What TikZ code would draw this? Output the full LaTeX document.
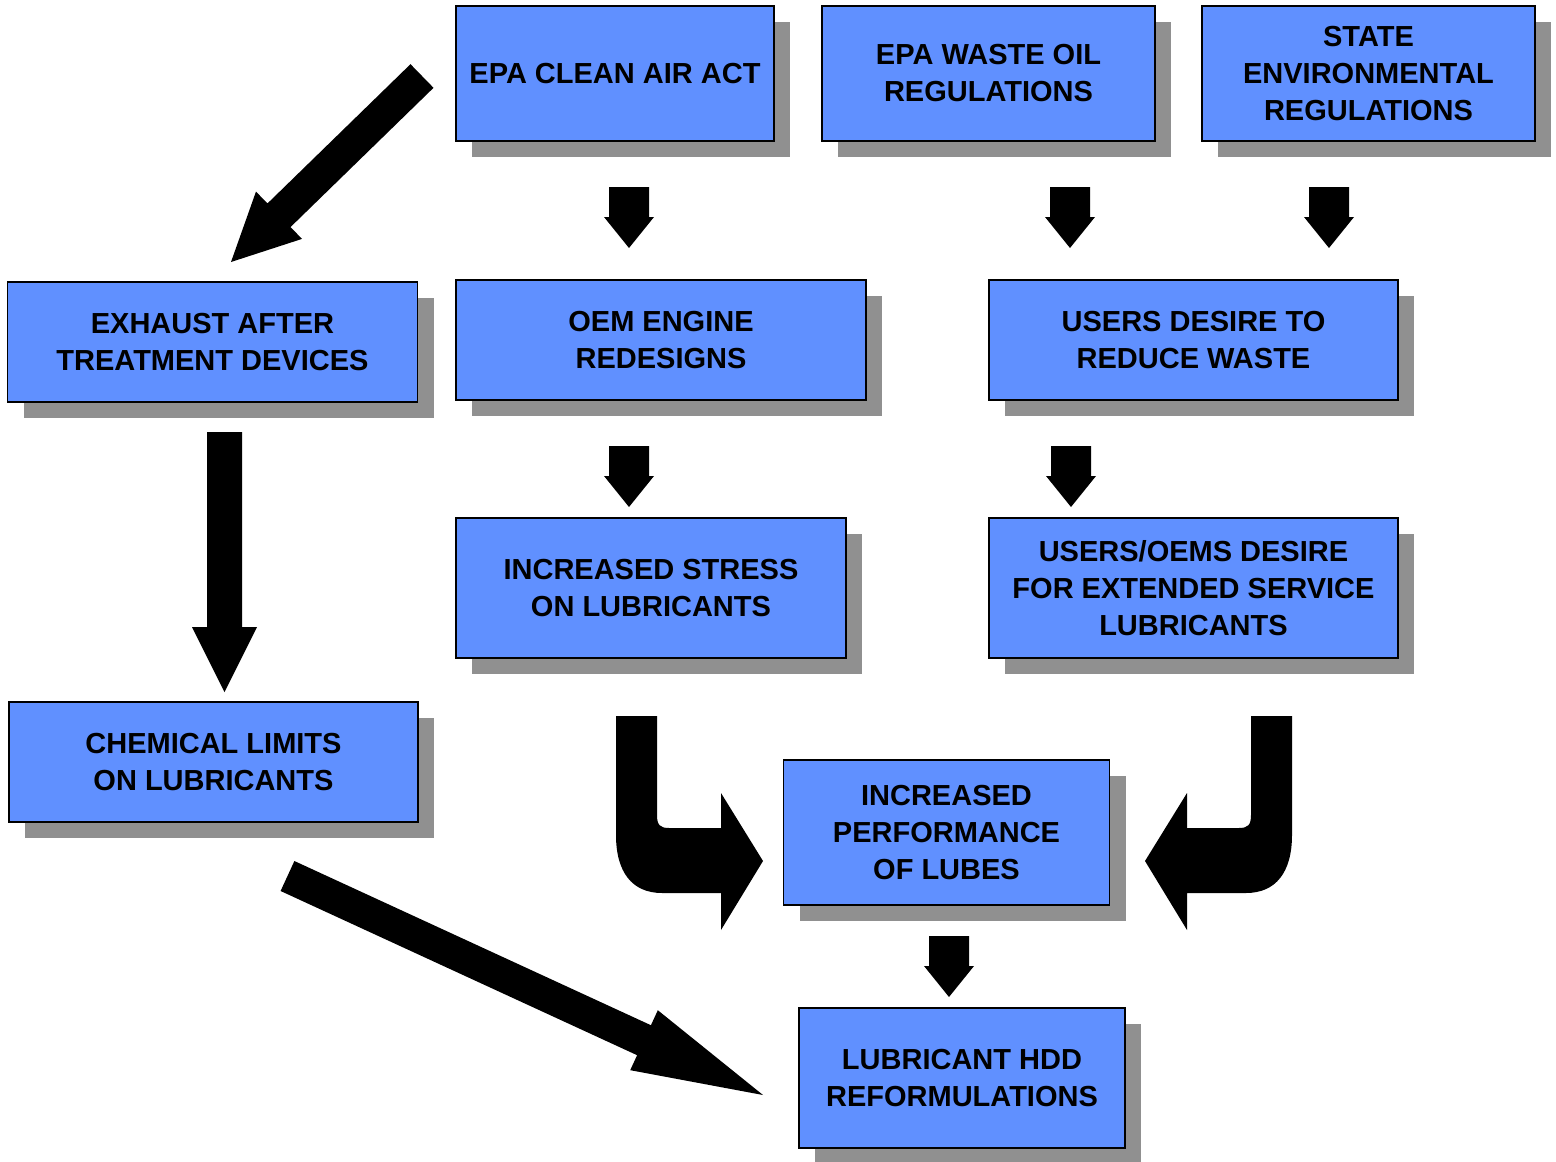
\documentclass[tikz,border=0pt]{standalone}
\usepackage{fontspec}
\setmainfont{Liberation Sans}
\usetikzlibrary{calc,shadows}
\definecolor{boxblue}{RGB}{96,144,255}
\definecolor{shade}{RGB}{144,144,144}
\newcommand\blockarrow[5]{%
  \coordinate (hb) at ($(#2)!#5!(#1)$);
  \fill ($(#1)!#3!90:(#2)$) -- ($(hb)!#3!-90:(#1)$) -- ($(hb)!#4!-90:(#1)$) -- (#2)
    -- ($(hb)!#4!90:(#1)$) -- ($(hb)!#3!90:(#1)$) -- ($(#1)!#3!-90:(#2)$) -- cycle;}
\newcommand\curlarrow{%
  \fill (616,716) -- (657,716) -- (657,815) .. controls (657,825) and (660,828) .. (669,828)
    -- (721,828) -- (721,793) -- (763,861) -- (721,930) -- (721,893) -- (662,893)
    .. controls (632,893) and (616,872) .. (616,835) -- cycle;}

\begin{document}
\begin{tikzpicture}[x=1pt,y=-1pt]
\tikzstyle{box}=[draw=black, line width=1.8pt, fill=boxblue, align=center, inner sep=2pt,
  font=\fontsize{29}{37}\selectfont\bfseries,
  drop shadow={shadow xshift=16pt, shadow yshift=-16pt, fill=shade, opacity=1}]
\useasboundingbox (0,0) rectangle (1556,1162);
\node (caa) [box, minimum width=318pt, minimum height=135pt] at (615,73.5) {EPA CLEAN AIR ACT};
\node (wor) [box, minimum width=333pt, minimum height=135pt] at (988.5,73.5) {EPA WASTE OIL\\REGULATIONS};
\node (ser) [box, minimum width=333pt, minimum height=135pt] at (1368.5,73.5) {STATE\\ENVIRONMENTAL\\REGULATIONS};
\node (ex) [box, minimum width=410pt, minimum height=120pt] at (212.5,342) {EXHAUST AFTER\\TREATMENT DEVICES};
\node (oem) [box, minimum width=410pt, minimum height=120pt] at (661,340) {OEM ENGINE\\REDESIGNS};
\node (uw) [box, minimum width=409pt, minimum height=120pt] at (1193.5,340) {USERS DESIRE TO\\REDUCE WASTE};
\node (st) [box, minimum width=390pt, minimum height=140pt] at (651,588) {INCREASED STRESS\\ON LUBRICANTS};
\node (ext) [box, minimum width=409pt, minimum height=140pt] at (1193.5,588) {USERS/OEMS DESIRE\\FOR EXTENDED SERVICE\\LUBRICANTS};
\node (chem) [box, minimum width=409pt, minimum height=120pt] at (213.5,762) {CHEMICAL LIMITS\\ON LUBRICANTS};
\node (perf) [box, minimum width=326pt, minimum height=145pt] at (946.5,832.5) {INCREASED\\PERFORMANCE\\OF LUBES};
\node (hdd) [box, minimum width=326pt, minimum height=140pt] at (962,1078) {LUBRICANT HDD\\REFORMULATIONS};
\coordinate (t1) at (629,187); \coordinate (h1) at (629,248);
\coordinate (t2) at (1070,187); \coordinate (h2) at (1070,248);
\coordinate (t3) at (1329,187); \coordinate (h3) at (1329,248);
\coordinate (t4) at (629,446); \coordinate (h4) at (629,507);
\coordinate (t5) at (1071,446); \coordinate (h5) at (1071,507);
\coordinate (t6) at (949,936); \coordinate (h6) at (949,997);
\coordinate (t7) at (422,76); \coordinate (h7) at (231,262);
\coordinate (t8) at (224.5,432); \coordinate (h8) at (224.5,692);
\coordinate (t9) at (287.5,876); \coordinate (h9) at (763,1095);
\foreach \i in {1,...,6} {\blockarrow{t\i}{h\i}{20pt}{25pt}{31pt}}
\blockarrow{t7}{h7}{16.5pt}{33pt}{67pt}
\blockarrow{t8}{h8}{17.5pt}{32.5pt}{65pt}
\blockarrow{t9}{h9}{16.5pt}{33pt}{131pt}
\curlarrow
\begin{scope}[xshift=1908pt, xscale=-1]
\curlarrow
\end{scope}
\end{tikzpicture}
\end{document}
